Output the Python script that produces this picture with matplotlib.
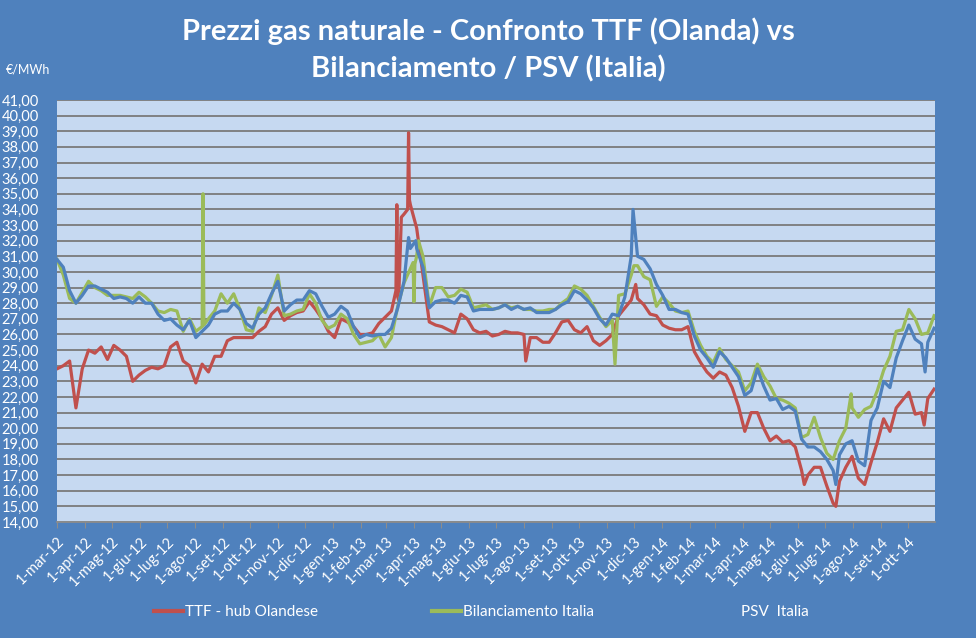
import matplotlib
matplotlib.use("Agg")
import matplotlib.pyplot as plt
from matplotlib.lines import Line2D
import pandas as pd

# ---------------- data (weekly readings from 1-mar-2012) ----------------
start_date = "2012-03-01"
n_weeks = 140

ttf_weekly = [
    23.8, 24.0, 24.3, 21.3, 23.8, 25.0, 24.8, 25.2, 24.4, 25.3,
    25.0, 24.6, 23.0, 23.4, 23.7, 23.9, 23.8, 24.0, 25.2, 25.5,
    24.3, 24.0, 22.9, 24.1, 23.6, 24.6, 24.6, 25.6, 25.8, 25.8,
    25.8, 25.8, 26.2, 26.5, 27.3, 27.7, 26.9, 27.2, 27.4, 27.5,
    28.1, 27.6, 27.0, 26.2, 25.8, 27.0, 26.8, 26.5, 26.0, 26.0,
    26.1, 26.7, 27.1, 27.5, 28.4, 33.7, 34.3, 32.8, 29.8, 26.8,
    26.6, 26.5, 26.3, 26.1, 27.3, 27.0, 26.3, 26.1, 26.2, 25.9,
    26.0, 26.2, 26.1, 26.1, 26.0, 25.8, 25.8, 25.5, 25.5, 26.1,
    26.8, 26.9, 26.3, 26.1, 26.5, 25.6, 25.3, 25.6, 26.0, 27.2,
    27.7, 28.2, 28.3, 27.9, 27.3, 27.2, 26.6, 26.4, 26.3, 26.3,
    26.5, 24.9, 24.2, 23.6, 23.2, 23.6, 23.4, 22.6, 21.4, 19.8,
    21.0, 21.0, 20.0, 19.2, 19.5, 19.1, 19.2, 18.8, 17.3, 17.0,
    17.5, 17.5, 16.3, 15.2, 16.6, 17.5, 18.2, 16.8, 16.4, 17.8,
    19.1, 20.6, 19.8, 21.3, 21.8, 22.3, 20.9, 21.0, 21.9, 22.5,
]
bil_weekly = [
    30.8, 29.8, 28.3, 28.0, 28.7, 29.4, 29.0, 28.8, 28.5, 28.5,
    28.5, 28.4, 28.3, 28.7, 28.4, 28.0, 27.5, 27.4, 27.6, 27.5,
    26.2, 27.0, 26.2, 26.5, 27.0, 27.5, 28.6, 28.0, 28.6, 27.6,
    26.3, 26.2, 27.7, 27.4, 28.5, 29.8, 27.2, 27.3, 27.5, 27.6,
    28.6, 28.0, 26.9, 26.4, 26.6, 27.3, 27.0, 26.0, 25.4, 25.5,
    25.6, 26.0, 25.2, 25.8, 27.8, 29.3, 30.2, 31.0, 31.0, 27.8,
    29.0, 29.0, 28.4, 28.5, 28.9, 28.7, 27.7, 27.8, 27.9, 27.6,
    27.7, 27.9, 27.7, 27.8, 27.6, 27.6, 27.5, 27.5, 27.6, 27.6,
    28.0, 28.3, 29.1, 28.9, 28.5, 27.8, 27.1, 26.5, 26.9, 28.5,
    28.6, 29.8, 30.4, 29.7, 29.5, 27.8, 28.4, 28.0, 27.5, 27.4,
    27.5, 26.2, 25.3, 24.6, 24.2, 25.1, 24.4, 24.0, 23.6, 22.4,
    22.9, 24.1, 23.3, 22.7, 21.9, 21.8, 21.6, 21.3, 19.4, 19.6,
    20.7, 19.4, 18.4, 18.0, 19.2, 20.0, 21.3, 20.7, 21.2, 21.4,
    22.4, 23.7, 24.6, 26.2, 26.3, 27.6, 27.0, 26.0, 26.1, 27.2,
]
psv_weekly = [
    30.8, 30.3, 28.8, 28.0, 28.5, 29.1, 29.1, 28.9, 28.7, 28.3,
    28.4, 28.3, 28.0, 28.4, 28.0, 28.0, 27.3, 26.9, 27.0, 26.6,
    26.3, 26.9, 25.8, 26.2, 26.6, 27.3, 27.5, 27.5, 28.0, 27.6,
    26.7, 26.4, 27.3, 27.7, 28.6, 29.4, 27.5, 27.9, 28.2, 28.2,
    28.8, 28.6, 27.8, 27.1, 27.3, 27.8, 27.5, 26.5, 25.8, 26.0,
    25.9, 26.0, 26.0, 26.4, 27.7, 29.4, 31.5, 31.5, 30.3, 27.7,
    28.1, 28.2, 28.2, 28.0, 28.5, 28.4, 27.5, 27.6, 27.6, 27.6,
    27.7, 27.9, 27.6, 27.8, 27.6, 27.7, 27.4, 27.4, 27.4, 27.6,
    27.9, 28.1, 28.8, 28.6, 28.2, 27.7, 27.0, 26.6, 27.3, 27.2,
    28.4, 31.0, 31.0, 30.8, 30.2, 29.2, 28.5, 27.6, 27.6, 27.4,
    27.3, 25.9, 25.0, 24.5, 23.9, 24.9, 24.5, 23.9, 23.3, 22.1,
    22.4, 23.8, 22.7, 21.8, 21.9, 21.2, 21.4, 21.1, 19.3, 18.8,
    18.8, 18.5, 18.0, 17.3, 18.3, 19.0, 19.2, 17.9, 17.6, 20.5,
    21.3, 23.0, 22.6, 24.5, 25.6, 26.6, 25.7, 25.4, 25.5, 26.4,
]

# single-day spikes
ttf_extra_dates = ["2013-03-12", "2013-03-13", "2013-03-15", "2013-03-18",
                   "2013-03-25", "2013-03-26", "2013-03-27", "2013-08-03",
                   "2013-12-03", "2014-06-08", "2014-07-13", "2014-10-19"]
ttf_extra_vals = [28.8, 34.3, 28.2, 33.5, 34.0, 38.9, 34.6, 24.3,
                  29.2, 16.4, 15.0, 20.2]
bil_extra_dates = ["2012-08-10", "2012-08-11", "2013-03-31", "2013-04-01",
                   "2013-04-02", "2013-04-06", "2013-11-10", "2013-12-01",
                   "2014-07-30"]
bil_extra_vals = [35.0, 26.6, 30.6, 28.1, 30.5, 32.0, 24.1, 30.4, 22.2]
psv_extra_dates = ["2013-03-26", "2013-04-03", "2013-11-30", "2013-12-02",
                   "2014-07-13", "2014-10-20"]
psv_extra_vals = [32.2, 32.0, 34.0, 32.8, 16.4, 23.6]

series_names = ["TTF - hub Olandese", "Bilanciamento Italia", "PSV  Italia"]
series_colors = ["#C0504D", "#9BBB59", "#4F81BD"]

month_abbr = ["gen", "feb", "mar", "apr", "mag", "giu",
              "lug", "ago", "set", "ott", "nov", "dic"]
y_ticks = list(range(14, 42))

# ---------------- build series ----------------
weekly_dates = pd.date_range(start_date, periods=n_weeks, freq="7D")


def build(weekly, ex_dates, ex_vals):
    s = pd.concat([pd.Series(weekly, index=weekly_dates),
                   pd.Series(ex_vals, index=pd.to_datetime(ex_dates))])
    s = s.groupby(level=0).last().sort_index()
    return s


all_series = [build(ttf_weekly, ttf_extra_dates, ttf_extra_vals),
              build(bil_weekly, bil_extra_dates, bil_extra_vals),
              build(psv_weekly, psv_extra_dates, psv_extra_vals)]

# ---------------- figure ----------------
BG = "#4F81BD"
PLOT_BG = "#C6D9F1"
TXT = "#FFFFFF"
FONT = ["Lato", "DejaVu Sans"]
plt.rcParams["font.family"] = FONT

fig = plt.figure(figsize=(9.76, 6.38), dpi=100, facecolor=BG)
W, H = 976, 638
ax = fig.add_axes([57 / W, 1 - 522 / H, (935 - 57) / W, (522 - 100) / H])
ax.set_facecolor(PLOT_BG)

for s, c in zip(all_series, series_colors):
    ax.plot(s.index, s.values, color=c, lw=2.3, solid_joinstyle="round")

ax.set_ylim(14, 41)
ax.set_yticks(y_ticks)
ax.set_yticklabels([f"{v},00" for v in y_ticks])
ax.grid(axis="y", color="#7A7A7A", lw=1.3)
ax.set_axisbelow(True)

x_start = pd.Timestamp(start_date)
x_end = pd.Timestamp("2014-10-31")
ax.set_xlim(x_start, x_end)
tick_dates = pd.date_range(start_date, "2014-10-01", freq="MS")
ax.set_xticks(tick_dates)
ax.set_xticklabels([f"1-{month_abbr[d.month - 1]}-{d.year % 100:02d}" for d in tick_dates],
                   rotation=45, ha="right", va="top", rotation_mode="anchor")

for sp in ["top", "right", "left"]:
    ax.spines[sp].set_visible(False)
ax.spines["bottom"].set_color("#8C8C8C")
ax.spines["bottom"].set_linewidth(1.3)
ax.tick_params(axis="y", length=0, pad=13, labelcolor=TXT, labelsize=10.5)
ax.tick_params(axis="x", length=4, color="#8C8C8C", pad=5, labelcolor=TXT, labelsize=10.5)

# ---------------- titles ----------------
fig.text(0.5, 1 - 31 / H, "Prezzi gas naturale - Confronto TTF (Olanda) vs",
         ha="center", va="center", color=TXT, fontsize=21, fontweight="bold")
fig.text(0.5, 1 - 69 / H, "Bilanciamento / PSV (Italia)",
         ha="center", va="center", color=TXT, fontsize=21, fontweight="bold")
fig.text(6 / W, 1 - 70 / H, "€/MWh", ha="left", va="center", color=TXT, fontsize=9)

# ---------------- legend ----------------
legend_x = [154, 432, 710]
for name, c, lx in zip(series_names, series_colors, legend_x):
    h = Line2D([], [], color=c, lw=3)
    fig.legend([h], [name], loc="center left", bbox_to_anchor=(lx / W, 1 - 612 / H),
               frameon=False, handlelength=1.9, handletextpad=0.15,
               borderaxespad=0, borderpad=0, labelcolor=TXT, fontsize=11)

fig.savefig("out.png", dpi=100, facecolor=BG)
